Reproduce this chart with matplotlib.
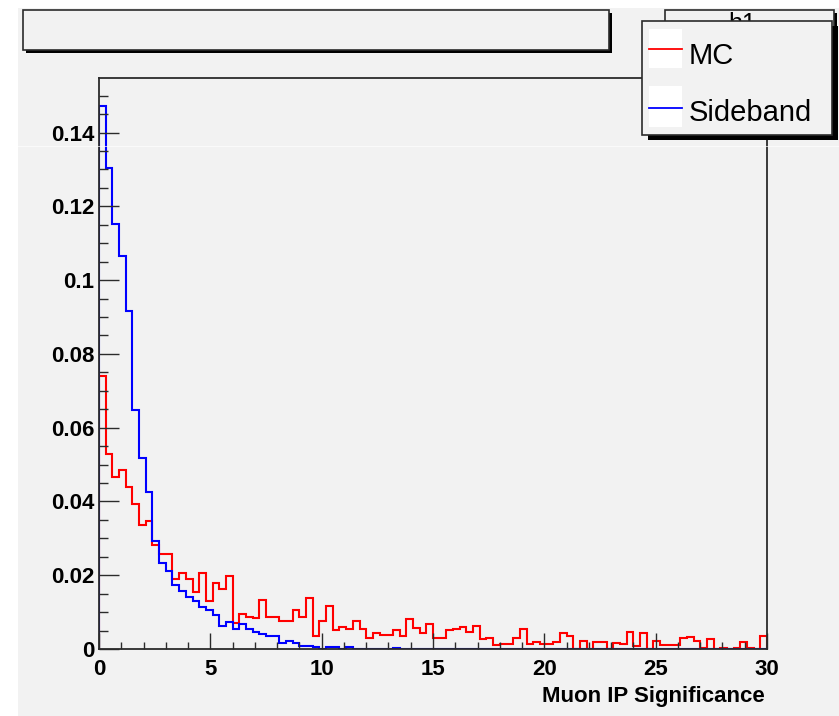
import numpy as np
import matplotlib
matplotlib.use("Agg")
import matplotlib.pyplot as plt
from matplotlib.patches import Rectangle
from matplotlib.lines import Line2D

# 100 bins of width 0.3 between 0 and 30
bin_edges = np.linspace(0, 30, 101)

mc = [0.0739, 0.0529, 0.0466, 0.0484, 0.0438, 0.0392, 0.0335, 0.0347, 0.0282, 0.0257,
      0.0257, 0.0190, 0.0207, 0.0190, 0.0155, 0.0207, 0.0130, 0.0178, 0.0162, 0.0198,
      0.0071, 0.0095, 0.0087, 0.0083, 0.0133, 0.0087, 0.0087, 0.0076, 0.0076, 0.0105,
      0.0087, 0.0138, 0.0034, 0.0076, 0.0117, 0.0051, 0.0060, 0.0055, 0.0076, 0.0055,
      0.0031, 0.0043, 0.0038, 0.0038, 0.0051, 0.0034, 0.0081, 0.0058, 0.0043, 0.0067,
      0.0031, 0.0031, 0.0051, 0.0055, 0.0060, 0.0046, 0.0063, 0.0026, 0.0031, 0.0010,
      0.0014, 0.0014, 0.0031, 0.0055, 0.0013, 0.0019, 0.0014, 0.0014, 0.0019, 0.0043,
      0.0034, 0.0001, 0.0022, 0.0001, 0.0019, 0.0019, 0.0000, 0.0017, 0.0014, 0.0046,
      0.0008, 0.0043, 0.0001, 0.0022, 0.0010, 0.0010, 0.0010, 0.0029, 0.0033, 0.0022,
      0.0004, 0.0026, 0.0001, 0.0002, 0.0000, 0.0002, 0.0018, 0.0002, 0.0000, 0.0034]

sideband = [0.1473, 0.1304, 0.1151, 0.1066, 0.0917, 0.0649, 0.0517, 0.0425, 0.0293, 0.0233,
            0.0212, 0.0174, 0.0158, 0.0141, 0.0129, 0.0114, 0.0105, 0.0092, 0.0063, 0.0072,
            0.0055, 0.0067, 0.0055, 0.0046, 0.0040, 0.0035, 0.0034, 0.0017, 0.0022, 0.0017,
            0.0009, 0.0009, 0.0005, 0.0001, 0.0006, 0.0006, 0.0000, 0.0006, 0.0001, 0.0001,
            0.0001, 0.0000, 0.0000, 0.0000, 0.0003, 0.0000, 0.0000, 0.0000, 0.0000, 0.0001] + [0.0] * 50

x_ticks = [0, 5, 10, 15, 20, 25, 30]
x_labels = ["0", "5", "10", "15", "20", "25", "30"]
y_ticks = [0, 0.02, 0.04, 0.06, 0.08, 0.10, 0.12, 0.14]
y_labels = ["0", "0.02", "0.04", "0.06", "0.08", "0.1", "0.12", "0.14"]

W, H = 839, 716
bg = "#f2f2f2"
edge = "#2b2b2b"


def fx(x):
    return x / W


def fy(y):
    return 1 - y / H


def box(x0, y0, x1, y1, shadow=(3, 3), fc=bg, z=5):
    # ROOT style pave with a black drop shadow
    sx, sy = shadow
    fig.add_artist(Rectangle((fx(x0 + sx), fy(y1 + sy)), (x1 - x0) / W, (y1 - y0) / H,
                             transform=fig.transFigure, facecolor="black", edgecolor="none", zorder=z))
    fig.add_artist(Rectangle((fx(x0), fy(y1)), (x1 - x0) / W, (y1 - y0) / H,
                             transform=fig.transFigure, facecolor=fc, edgecolor=edge, lw=1.2, zorder=z + 0.1))


fig = plt.figure(figsize=(W / 100, H / 100), dpi=100, facecolor="white")
fig.add_artist(Rectangle((fx(18), 0), 1 - fx(18), fy(8), transform=fig.transFigure,
                         facecolor=bg, edgecolor="none", zorder=-10))

ax = fig.add_axes([fx(99), fy(649), (767 - 99) / W, (649 - 78) / H])
ax.set_facecolor(bg)
mc_h = ax.stairs(mc, bin_edges, color="#ff0000", lw=1.5)
sb_h = ax.stairs(sideband, bin_edges, color="#0000ff", lw=1.5)

ax.set_xlim(0, 30)
ax.set_ylim(0, 0.1548)
for s in ax.spines.values():
    s.set_color(edge)
    s.set_linewidth(1.3)

tick_font = dict(family="Liberation Sans", weight="bold", size=16)
ax.set_xticks(x_ticks)
ax.set_xticklabels(x_labels, **tick_font)
ax.set_xticks(np.arange(0, 31, 1), minor=True)
ax.set_yticks(y_ticks)
ax.set_yticklabels(y_labels, **tick_font)
ax.set_yticks(np.arange(0, 0.1549, 0.005), minor=True)
ax.tick_params(axis="x", which="major", direction="in", length=11.5, width=1, pad=7, color=edge)
ax.tick_params(axis="x", which="minor", direction="in", length=5, width=1, color=edge)
ax.tick_params(axis="y", which="major", direction="in", length=14.4, width=1, pad=3.5, color=edge)
ax.tick_params(axis="y", which="minor", direction="in", length=6.5, width=1, color=edge)

ax.set_xlabel("Muon IP Significance", loc="right", **tick_font)
ax.xaxis.set_label_coords(0.997, -0.064)

# title pave (empty) and stats pave behind the legend
box(23, 10, 609, 50)
box(665, 10, 834, 75)
fig.text(fx(742), fy(12), "h1", ha="center", va="top", fontsize=18,
         family="Liberation Sans", zorder=5.2)

# legend
box(641.7, 20.7, 832, 135, shadow=(6, 5), z=6)
legend_font = dict(family="Liberation Sans", size=21)
entries = [(mc_h, "MC", 29, 68, 49, 64), (sb_h, "Sideband", 86, 127, 108, 121)]
for h, label, top, bot, ly, base in entries:
    fig.add_artist(Rectangle((fx(649), fy(bot)), 33 / W, (bot - top) / H, transform=fig.transFigure,
                             facecolor="white", edgecolor="none", zorder=6.2))
    fig.add_artist(Line2D([fx(649), fx(682)], [fy(ly), fy(ly)], transform=fig.transFigure,
                          color=h.get_edgecolor(), lw=1.3, zorder=6.3))
    fig.text(fx(689), fy(base), label, ha="left", va="baseline", zorder=6.4, **legend_font)

# faint seam line across the canvas
fig.add_artist(Line2D([0, 1], [fy(146), fy(146)], transform=fig.transFigure,
                      color="white", lw=0.6, alpha=0.8, zorder=4))

fig.savefig("out.png", dpi=100)
